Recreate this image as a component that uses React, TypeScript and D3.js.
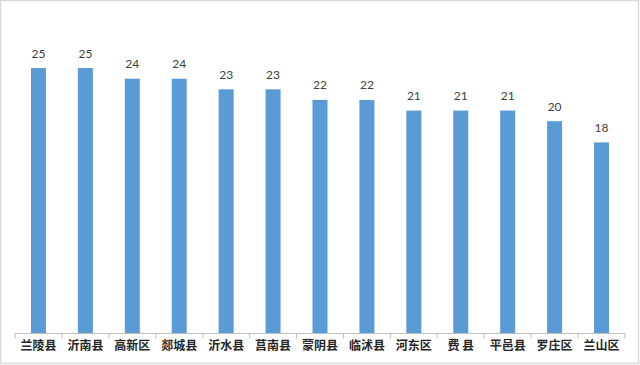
import { useEffect, useRef } from 'react';
import * as d3 from 'd3';

const CATEGORIES = ['兰陵县', '沂南县', '高新区', '郯城县', '沂水县', '莒南县', '蒙阴县', '临沭县', '河东区', '费 县', '平邑县', '罗庄区', '兰山区'];
const VALUES = [25, 25, 24, 24, 23, 23, 22, 22, 21, 21, 21, 20, 18];
const Y_MAX = 30;

export default function App() {
  const svgRef = useRef<SVGSVGElement>(null);

  useEffect(() => {
    if (!svgRef.current) return;
    const width = 640;
    const height = 365;
    const svg = d3.select(svgRef.current);
    svg.selectAll('*').remove();

    svg.append('rect')
      .attr('width', width).attr('height', height)
      .attr('fill', '#ffffff');

    // outer frame
    svg.append('rect')
      .attr('x', 0.5).attr('y', 0.5)
      .attr('width', width - 2).attr('height', height - 2)
      .attr('fill', 'none')
      .attr('stroke', '#d9d9d9')
      .attr('stroke-width', 1.5);

    const x = d3.scaleBand<string>()
      .domain(CATEGORIES)
      .range([15, 625])
      .paddingInner(0.68)
      .paddingOuter(0.34);

    const y = d3.scaleLinear().domain([0, Y_MAX]).range([333.5, 15]);

    const g = svg.append('g');

    g.selectAll('rect.bar')
      .data(VALUES)
      .enter()
      .append('rect')
      .attr('class', 'bar')
      .attr('x', (_, i) => x(CATEGORIES[i])!)
      .attr('y', (d) => y(d))
      .attr('width', x.bandwidth())
      .attr('height', (d) => y(0) - y(d))
      .attr('fill', '#5b9bd5');

    g.selectAll('text.val')
      .data(VALUES)
      .enter()
      .append('text')
      .attr('class', 'val')
      .attr('x', (_, i) => x(CATEGORIES[i])! + x.bandwidth() / 2)
      .attr('y', (d) => y(d) - 10.5)
      .attr('text-anchor', 'middle')
      .attr('font-family', 'Lato, "Open Sans", sans-serif')
      .attr('font-size', '12px')
      .attr('fill', '#404040')
      .text((d) => String(d));

    // x axis
    const axis = svg.append('g').attr('transform', `translate(0, ${y(0)})`);
    axis.append('line')
      .attr('x1', 15).attr('x2', 625)
      .attr('stroke', '#bfbfbf').attr('stroke-width', 1);

    const step = x.step();
    d3.range(CATEGORIES.length + 1).forEach((i) => {
      const tx = 15 + i * step;
      axis.append('line')
        .attr('x1', tx).attr('x2', tx)
        .attr('y1', 0).attr('y2', 5)
        .attr('stroke', '#bfbfbf').attr('stroke-width', 1);
    });

    axis.selectAll('text.cat')
      .data(CATEGORIES)
      .enter()
      .append('text')
      .attr('class', 'cat')
      .attr('x', (d) => x(d)! + x.bandwidth() / 2)
      .attr('y', 16)
      .attr('text-anchor', 'middle')
      .attr('font-family', '"Noto Sans CJK SC", sans-serif')
      .attr('font-size', '12px')
      .attr('font-weight', 700)
      .attr('fill', '#262626')
      .text((d) => d);
  }, []);

  return (
    <div style={{ position: 'absolute', left: 0, top: 0 }}>
      <svg ref={svgRef} width={640} height={365} style={{ display: 'block' }} />
    </div>
  );
}
